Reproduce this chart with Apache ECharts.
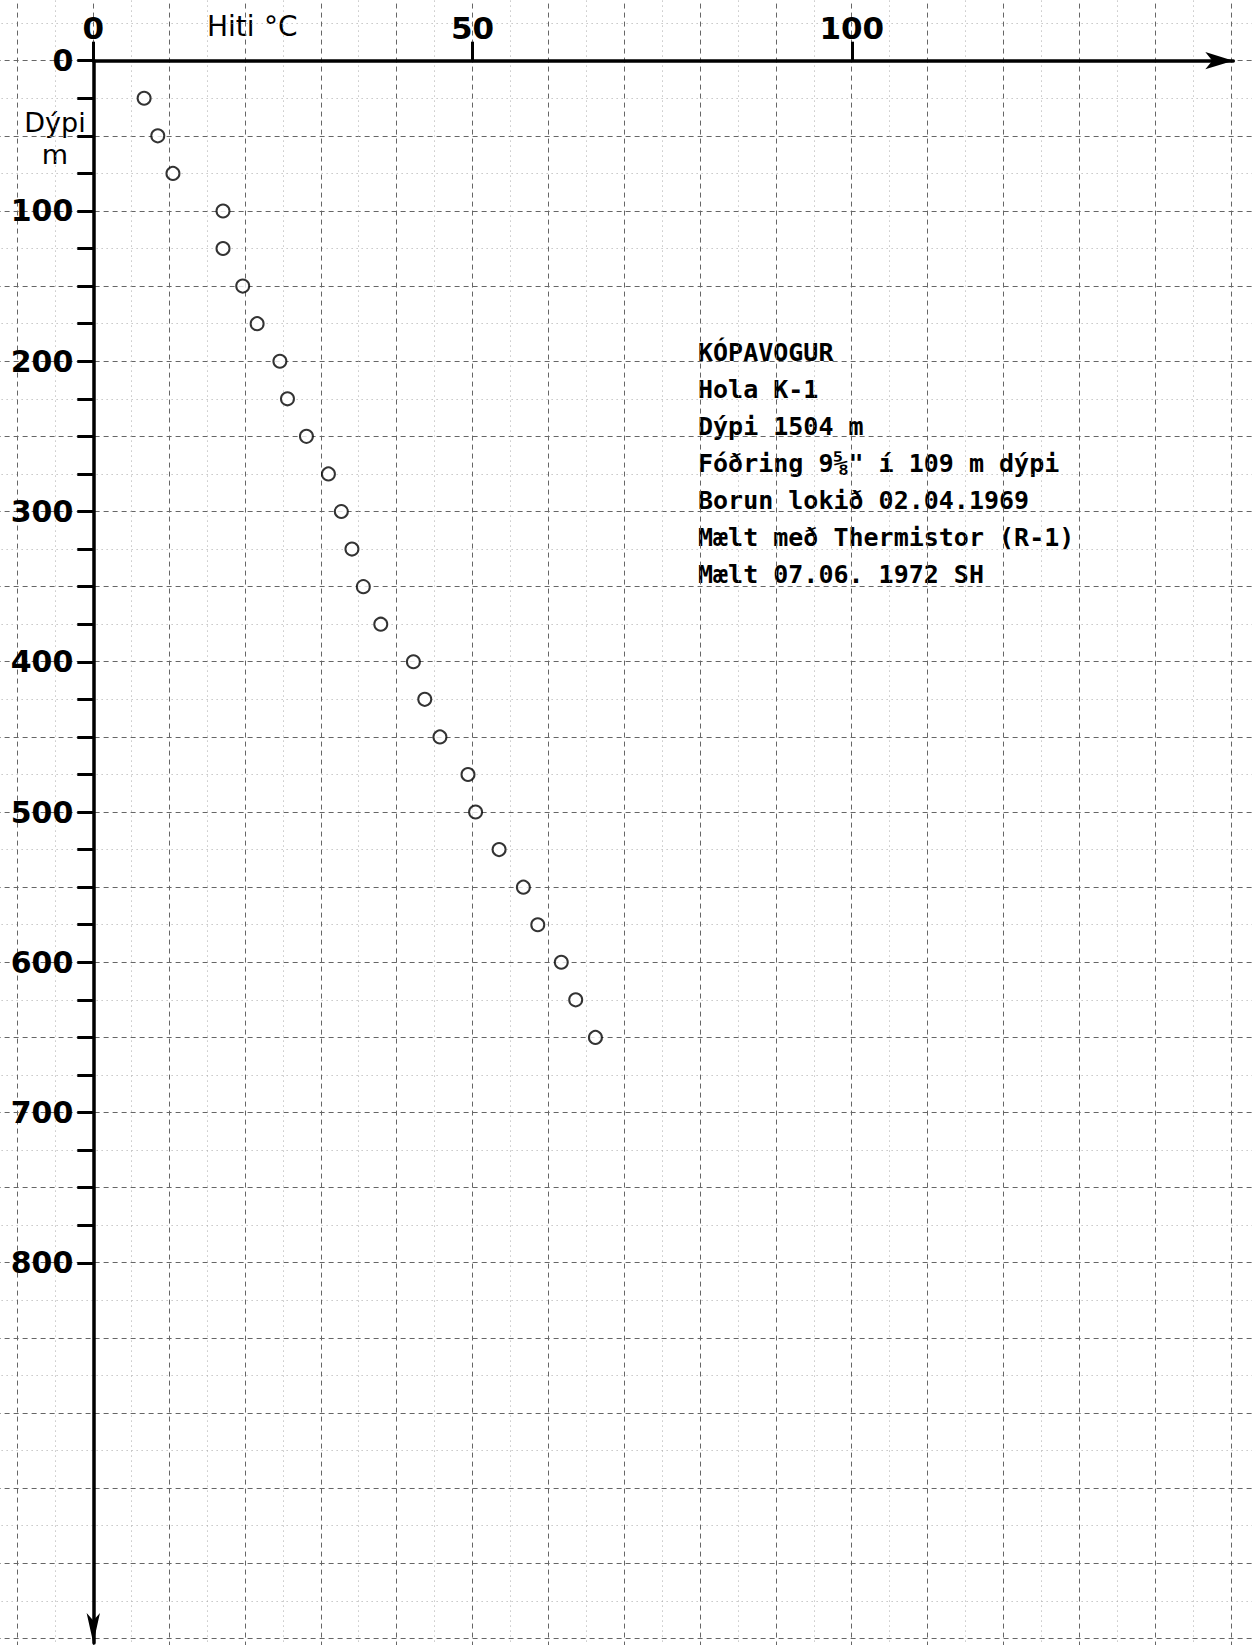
<!DOCTYPE html>
<html>
<head>
<meta charset="utf-8">
<script src="https://cdn.jsdelivr.net/npm/echarts@6/dist/echarts.min.js"></script>
<style>
html,body{margin:0;padding:0;background:#fff;}
#chart{width:1252px;height:1645px;}
</style>
</head>
<body>
<div id="chart"></div>
<script>
// Depth (m) of each measurement
const depths = [25, 50, 75, 100, 125, 150, 175, 200, 225, 250, 275, 300, 325,
                350, 375, 400, 425, 450, 475, 500, 525, 550, 575, 600, 625, 650];
// Temperature (°C) at each depth
const temps = [6.7, 8.5, 10.5, 17.1, 17.1, 19.7, 21.6, 24.6, 25.6, 28.1, 31.0, 32.7, 34.1,
               35.6, 37.9, 42.2, 43.7, 45.7, 49.4, 50.4, 53.5, 56.7, 58.6, 61.7, 63.6, 66.2];
// Axis tick labels
const xTickLabels = [0, 50, 100];
const yTickLabels = [0, 100, 200, 300, 400, 500, 600, 700, 800];
const yTickMarks = [0, 25, 50, 75, 100, 125, 150, 175, 200, 225, 250, 275, 300, 325, 350, 375,
                    400, 425, 450, 475, 500, 525, 550, 575, 600, 625, 650, 675, 700, 725, 750, 775, 800];
// Texts
const xTitle = 'Hiti';
const xUnit = '°C';
const yTitle = 'Dýpi\nm';
const infoLines = [
  'KÓPAVOGUR',
  'Hola K-1',
  'Dýpi 1504 m',
  'Fóðring 9⅝" í 109 m dýpi',
  'Borun lokið 02.04.1969',
  'Mælt með Thermistor (R-1)',
  'Mælt 07.06. 1972 SH'
];

const points = depths.map((d, i) => [temps[i], d]);
const FONT = '"DejaVu Sans", sans-serif';
const MONO = '"DejaVu Sans Mono", monospace';

const chart = echarts.init(document.getElementById('chart'), null, {renderer: 'svg'});
chart.setOption({
  backgroundColor: '#fff',
  animation: false,
  grid: [
    // graph paper (extends beyond the page so grid values are round)
    {left: -58.38, right: -54.74, top: -14.43, bottom: -68.45, containLabel: false, outerBoundsMode: 'none'},
    // measurement axes
    {left: 93.3, right: 18.7, top: 60.7, bottom: 2, containLabel: false, outerBoundsMode: 'none'}
  ],
  xAxis: [
    {
      gridIndex: 0, type: 'value', min: -20, max: 160, interval: 10,
      axisLine: {show: false}, axisTick: {show: false}, axisLabel: {show: false},
      splitLine: {show: true, lineStyle: {color: '#666', width: 1, type: [5, 4]}},
      minorTick: {show: false, splitNumber: 2},
      minorSplitLine: {show: true, lineStyle: {color: '#aaa', width: 1, type: [1, 4]}}
    },
    {
      gridIndex: 1, type: 'value', min: 0, max: 150.3, position: 'top',
      axisLine: {show: true, onZero: false, symbol: ['none', 'arrow'], symbolSize: [13, 28], symbolOffset: [0, 0],
                 lineStyle: {color: '#000', width: 3.5}},
      axisTick: {show: true, inside: false, length: 19, customValues: xTickLabels,
                 lineStyle: {color: '#000', width: 3}},
      axisLabel: {show: true, customValues: xTickLabels, margin: 17, color: '#000',
                  fontFamily: FONT, fontSize: 31, fontWeight: 'bold'},
      splitLine: {show: false}
    }
  ],
  yAxis: [
    {
      gridIndex: 0, type: 'value', min: -50, max: 1100, interval: 50, inverse: true,
      axisLine: {show: false}, axisTick: {show: false}, axisLabel: {show: false},
      splitLine: {show: true, lineStyle: {color: '#666', width: 1, type: [5, 4]}},
      minorTick: {show: false, splitNumber: 2},
      minorSplitLine: {show: true, lineStyle: {color: '#aaa', width: 1, type: [1, 4]}}
    },
    {
      gridIndex: 1, type: 'value', min: 0, max: 1053, inverse: true, position: 'left',
      axisLine: {show: true, onZero: false, symbol: ['arrow', 'none'], symbolSize: [10, 30], symbolOffset: [0, 0],
                 lineStyle: {color: '#000', width: 3.5}},
      axisTick: {show: true, inside: false, length: 16, customValues: yTickMarks,
                 lineStyle: {color: '#000', width: 3}},
      axisLabel: {show: true, customValues: yTickLabels, margin: 20, color: '#000',
                  fontFamily: FONT, fontSize: 30, fontWeight: 'bold'},
      splitLine: {show: false}
    }
  ],
  graphic: [
    {type: 'text', x: 207, y: 26, style: {text: xTitle, font: '28px ' + FONT, fill: '#000', textAlign: 'left', textVerticalAlign: 'middle'}},
    {type: 'text', x: 264, y: 26, style: {text: xUnit, font: '28px ' + FONT, fill: '#000', textAlign: 'left', textVerticalAlign: 'middle'}},
    {type: 'text', x: 55, y: 106, style: {text: yTitle, font: '27px ' + FONT, lineHeight: 32, fill: '#000', textAlign: 'center', textVerticalAlign: 'top'}},
    {type: 'text', x: 698, y: 334, style: {text: infoLines.join('\n'), font: 'bold 25px ' + MONO, lineHeight: 37, fill: '#000', textAlign: 'left', textVerticalAlign: 'top'}}
  ],
  series: [
    {
      type: 'scatter', xAxisIndex: 1, yAxisIndex: 1,
      data: points,
      symbol: 'emptyCircle', symbolSize: 13,
      itemStyle: {color: '#000', borderColor: '#000', borderWidth: 2.5},
      clip: false
    }
  ]
});
</script>
</body>
</html>
